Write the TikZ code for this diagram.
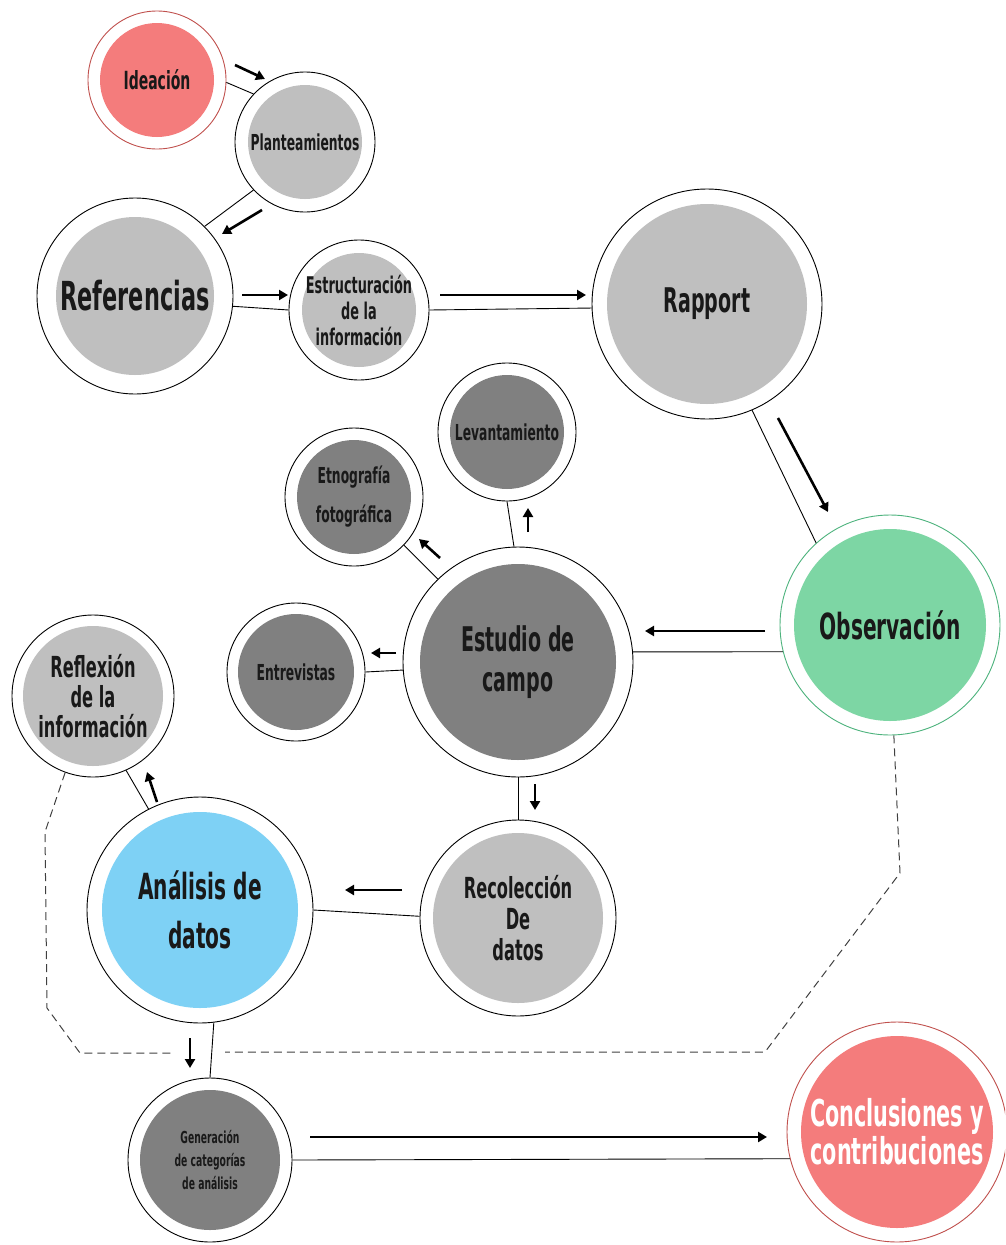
\documentclass[tikz,border=0pt]{standalone}
\usepackage{fontspec}
\usetikzlibrary{arrows.meta}
\newfontfamily\agency[FakeStretch=0.56]{DejaVu Sans}
\newcommand\bubtext[2]{\agency\bfseries\fontsize{#1}{#2}\selectfont}
\definecolor{salmon}{HTML}{F47C7C}
\definecolor{salmonline}{HTML}{C0504D}
\definecolor{lgray}{HTML}{BFBFBF}
\definecolor{dgray}{HTML}{808080}
\definecolor{skyblue}{HTML}{7ED1F5}
\definecolor{mint}{HTML}{7DD6A4}
\definecolor{mintline}{HTML}{4DB37D}
\tikzset{
  bubble/.style n args={4}{circle, draw=#1, line width=0.9pt, fill=white, inner sep=0pt,
    align=center, text=black!90, minimum size={2*#3pt},
    path picture={\fill[#2] (path picture bounding box.center) circle (#4pt);}},
  link/.style={line width=0.9pt},
  flow/.style={line width=2.6pt, -{Triangle[length=9pt,width=10pt]}},
  trail/.style={line width=1pt, black!75, dash pattern=on 8pt off 5pt}
}

\begin{document}
\begin{tikzpicture}[x=1pt, y=-1pt]
  \clip (0,0) rectangle (1005,1245);
  % circles
  \node[bubble={salmonline}{salmon}{69}{57}, font=\bubtext{25}{28}] (ide) at (157,80) {Ideación};
  \node[bubble={black}{lgray}{70}{57}, font=\bubtext{22}{24}] (plan) at (305,142) {Planteamientos};
  \node[bubble={black}{lgray}{98}{79}, font=\bubtext{40}{44}] (ref) at (135,296) {Referencias};
  \node[bubble={black}{lgray}{70}{57}, font=\bubtext{23}{26}] (estr) at (359,310) {Estructuración\\de la\\información};
  \node[bubble={black}{lgray}{115}{100}, font=\bubtext{34}{38}] (rap) at (707,304) {Rapport};
  \node[bubble={mintline}{mint}{110}{96}, font=\bubtext{36}{40}] (obs) at (890,625) {Observación};
  \node[bubble={black}{dgray}{69}{57}, font=\bubtext{22}{24}] (lev) at (507,432) {Levantamiento};
  \node[bubble={black}{dgray}{69}{57}, font=\bubtext{22}{39}] (etn) at (354,497) {Etnografía\\fotográfica};
  \node[bubble={black}{dgray}{115}{98}, font=\bubtext{34}{40}] (est) at (518,662) {Estudio de\\campo};
  \node[bubble={black}{dgray}{69}{58}, font=\bubtext{22}{24}] (ent) at (296,672) {Entrevistas};
  \node[bubble={black}{lgray}{81}{70}, font=\bubtext{29}{30}] (refl) at (93,696) {Reflexión\\de la\\información};
  \node[bubble={black}{skyblue}{113}{98}, font=\bubtext{36}{49}] (ana) at (200,910) {Análisis de\\datos};
  \node[bubble={black}{lgray}{98}{85}, font=\bubtext{29}{31}] (rec) at (518,918) {Recolección\\De\\datos};
  \node[bubble={black}{dgray}{82}{70}, font=\bubtext{16.5}{23}] (gen) at (210,1160) {Generación\\de categorías\\de análisis};
  \node[bubble={salmonline}{salmon}{110}{96}, font=\bubtext{37}{38}, text=white] (conc) at (897,1132) {Conclusiones y\\contribuciones};
  % thin links
  \draw[link] (ide.-2) -- (plan.137);
  \draw[link] (plan.223) -- (ref.45);
  \draw[link] (ref.-6) -- (estr.west);
  \draw[link] (estr.east) -- (rap.182);
  \draw[link] (rap.293) -- (obs.132);
  \draw[link] (obs.194) -- (est.5);
  \draw[link] (est.92) -- (lev.south);
  \draw[link] (est.134) -- (etn.316);
  \draw[link] (est.184) -- (ent.east);
  \draw[link] (est.south) -- (rec.north);
  \draw[link] (rec.179) -- (ana.east);
  \draw[link] (ana.117) -- (refl.294);
  \draw[link] (ana.277) -- (gen.north);
  \draw[link] (gen.east) -- (conc.194);
  % arrows beside the links
  \foreach \n/\s/\e in {a1/{235,65}/{265,79}, a2/{262,210}/{222,234}, a3/{242,295}/{288,295},
      a4/{440,295}/{586,295}, a5/{778,418}/{828,512}, a6/{765,631}/{645,631},
      a7/{528,532}/{528,508}, a8/{440,558}/{419,539}, a9/{396,653}/{371,653},
      a10/{535,784}/{535,810}, a11/{402,890}/{345,890}, a12/{157,802}/{147,772},
      a13/{190,1038}/{190,1068}, a14/{310,1137}/{767,1137}}{
    \coordinate (\n s) at (\s);
    \coordinate (\n e) at (\e);
    \draw[flow] (\n s) -- (\n e);
  }
  % dashed feedback
  \coordinate (lb1) at (45,832);
  \coordinate (lb2) at (47,1008);
  \coordinate (lb3) at (80,1053);
  \coordinate (lb4) at (175,1053);
  \coordinate (rb1) at (900,873);
  \coordinate (rb2) at (765,1052);
  \coordinate (rb3) at (225,1052);
  \draw[trail] (refl.250) -- (lb1) -- (lb2) -- (lb3) -- (lb4);
  \draw[trail] (obs.272) -- (rb1) -- (rb2) -- (rb3);
\end{tikzpicture}
\end{document}
